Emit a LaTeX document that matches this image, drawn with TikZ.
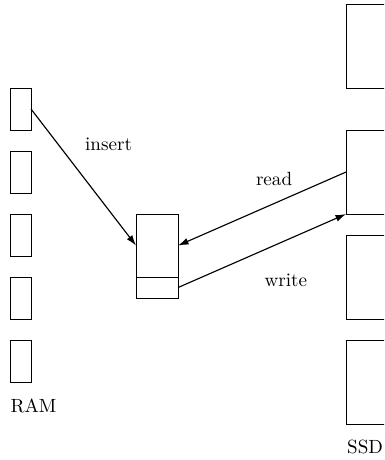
\documentclass[tikz,border=0pt]{standalone}
\usetikzlibrary{arrows.meta}
\usetikzlibrary{positioning}

\begin{document}
\begin{tikzpicture}[->,>={Latex[length=5.5pt,width=3.6pt]},x=11pt,y=11pt,node distance=11pt,semithick]
	\tikzstyle{cell}=[shape=rectangle,draw,thin,outer sep=0pt,inner sep=0pt,minimum width=11pt,minimum height=22pt]
	\tikzstyle{block}=[cell,minimum width=26pt,minimum height=44pt]
	\tikzstyle{caption}=[inner sep=0pt]

	% the flash blocks run off the right edge
	\useasboundingbox (-0.476,0.19) rectangle (17.81,-21.71);
	\clip (-0.476,0.19) rectangle (17.81,-21.71);

	% memory cells
	\node[cell]       (R_1) at (0.5,-5)  {};
	\node[cell]       (R_2) [below=of R_1] {};
	\node[cell]       (R_3) [below=of R_2] {};
	\node[cell]       (R_4) [below=of R_3] {};
	\node[cell]       (R_5) [below=of R_4] {};

	% buffer with its spare slot
	\node[cell,minimum width=22pt,minimum height=33pt] (B)   at (7,-11.5) {};
	\node[cell,minimum width=22pt,minimum height=11pt] (B_s) [below=0pt of B] {};

	% flash blocks
	\node[block]      (S_1) at (17.18,-2) {};
	\node[block]      (S_2) [below=22pt of S_1] {};
	\node[block]      (S_3) [below=of S_2] {};
	\node[block]      (S_4) [below=of S_3] {};

	\node[caption]    (RAM) [below=8.3pt of R_5.south west,anchor=north west] {RAM};
	\node[caption]    (SSD) [below=8.3pt of S_4.south west,anchor=north west,xshift=0.3pt] {SSD};

	\path (R_1.east) edge node[xshift=13.1pt,yshift=17.4pt] (ins) {insert} (B.west)
	(S_2.west) edge node[xshift=6.3pt,yshift=15.6pt] (rd) {read} (B.east)
	(B_s.east) edge node[xshift=12.5pt,yshift=-15.3pt] (wr) {write} (S_2.south west)
	;
\end{tikzpicture}
\end{document}
